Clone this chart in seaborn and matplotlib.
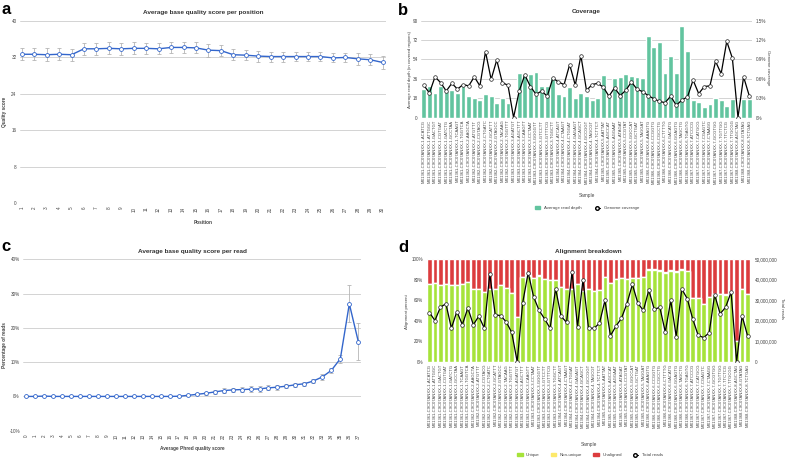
import numpy as np
import pandas as pd
import matplotlib
matplotlib.use("Agg")
import matplotlib.pyplot as plt
import seaborn as sns
from matplotlib.patches import Patch
from matplotlib.lines import Line2D
from matplotlib.ticker import FuncFormatter

# ---- Panel a: quality per position ----
positions = list(range(1, 31))
pos_quality = [32.7, 32.7, 32.6, 32.7, 32.6, 33.9, 33.9, 34.0, 33.9, 34.0,
               34.0, 33.9, 34.2, 34.2, 34.1, 33.6, 33.5, 32.6, 32.5, 32.3,
               32.2, 32.2, 32.2, 32.2, 32.2, 31.9, 32.0, 31.7, 31.5, 30.9]
pos_quality_sd = [1.3, 1.3, 1.4, 1.3, 1.3, 1.3, 1.3, 1.3, 1.3, 1.3,
                  1.2, 1.2, 1.2, 1.3, 1.2, 1.4, 1.2, 1.2, 1.1, 1.2,
                  1.1, 1.1, 1.0, 0.9, 0.9, 1.0, 1.0, 1.3, 1.2, 1.5]

# ---- Panel c: quality per read ----
phred_scores = list(range(0, 38))
read_pct = [0.0, 0.0, 0.1, 0.0, 0.0, 0.0, 0.0, 0.0, 0.0, 0.0,
            0.0, 0.0, 0.0, 0.0, 0.0, 0.0, 0.0, 0.05, 0.3, 0.6,
            0.9, 1.3, 1.7, 1.9, 2.0, 2.1, 2.2, 2.5, 2.7, 3.0,
            3.4, 3.7, 4.5, 5.7, 7.6, 11.0, 27.0, 16.0]
read_pct_sd = [0.05, 0.05, 0.1, 0.05, 0.05, 0.05, 0.05, 0.05, 0.05, 0.05,
               0.05, 0.05, 0.05, 0.05, 0.05, 0.05, 0.05, 0.1, 0.2, 0.3,
               0.4, 0.6, 0.7, 0.7, 0.8, 0.8, 0.8, 0.7, 0.7, 0.6,
               0.6, 0.6, 0.6, 0.8, 0.8, 1.2, 5.4, 5.5]

# ---- Samples (panels b and d) ----
lane_ids = ["MX1361", "MX1362", "MX1363", "MX1364", "MX1365", "MX1366", "MX1367", "MX1368"]
lane_barcodes = [
    ["ACATCG", "ATTGGC", "GACTGT", "CGTGAT", "GATCTG", "GCCTAA", "TCAAGT", "TGGTCA"],
    ["AAGCTA", "ATGTTT", "CGTACG", "CTGATC", "GCATTT", "GTAGCC", "TACAAG", "TGGTTT"],
    ["AGATGT", "AGCTTT", "CAAGTT", "CCTAAT", "GGGGTT", "GTCCTT", "GTTTCG", "TGGCTT"],
    ["ATCAGT", "CTAAGT", "CTGGAT", "GAGAGT", "GCAGCT", "GCCGGT", "TAGCGT", "TCTTCT"],
    ["AATTAT", "AGCCAT", "AGGAAT", "ATAGAT", "CCGTAT", "GGCCAT", "GCTGAT", "TAGGAT"],
    ["AAAGTG", "CCGGTG", "CGCCTG", "CTTTTG", "GACATG", "GGAGTG", "TAGCTG", "TGAGTG"],
    ["ATCCCG", "CATGCG", "CGAGTC", "CTAAGG", "GCGTGG", "TGTTGG", "TTCTCG", "TTGCGG"],
    ["AGCTAG", "GTATAG", "TCTGAG"],
]
samples = [f"{lid}-C9C07ANXX-{i + 1}-{bc}"
           for i, (lid, bcs) in enumerate(zip(lane_ids, lane_barcodes)) for bc in bcs]

read_depth = [26.7, 29.2, 23.0, 28.9, 24.6, 25.2, 22.7, 28.9,
              20.3, 18.1, 16.6, 21.8, 20.3, 13.2, 18.4, 13.5,
              0.0, 41.2, 40.5, 40.0, 42.1, 29.5, 29.5, 37.5,
              22.1, 19.7, 28.3, 18.1, 22.7, 19.7, 16.6, 17.8,
              39.1, 21.6, 36.4, 37.9, 40.7, 38.2, 37.3, 37.0,
              76.1, 65.7, 70.6, 41.6, 57.3, 41.3, 84.8, 61.7,
              16.0, 14.8, 9.9, 12.9, 17.9, 16.0, 10.5, 17.6,
              0.0, 17.6, 17.6]
genome_cov = [0.50, 0.38, 0.63, 0.54, 0.41, 0.53, 0.44, 0.51,
              0.49, 0.63, 0.49, 1.02, 0.59, 0.89, 0.54, 0.50,
              0.00, 0.41, 0.66, 0.48, 0.36, 0.41, 0.33, 0.61,
              0.55, 0.51, 0.82, 0.50, 0.96, 0.42, 0.51, 0.53,
              0.47, 0.33, 0.46, 0.34, 0.42, 0.55, 0.44, 0.40,
              0.34, 0.29, 0.25, 0.23, 0.33, 0.19, 0.27, 0.32,
              0.58, 0.37, 0.48, 0.49, 0.87, 0.68, 1.18, 0.92,
              0.00, 0.63, 0.34]

unique_pct = [76, 76.5, 75, 75.5, 75, 75, 75.5, 78,
              71, 71, 68, 71, 71, 75, 71.5, 67,
              44, 83, 84, 82, 84, 81, 80, 80,
              73, 71, 71, 76, 69, 71, 69, 70,
              83, 77, 81, 82, 81, 82, 82, 83,
              90, 90, 89, 87, 89, 88, 90, 88.5,
              62, 62, 56, 63, 66, 66, 65.5, 69,
              20, 71, 66]
nonunique_pct = [0.2, 0.2, 0.2, 0.2, 0.2, 0.2, 0.2, 0.2,
                 0.2, 0.2, 0.2, 0.2, 0.2, 0.2, 0.2, 0.2,
                 0.1, 0.2, 0.2, 0.2, 0.2, 0.2, 0.2, 0.2,
                 0.2, 0.2, 0.2, 0.2, 0.2, 0.2, 0.2, 0.2,
                 0.2, 0.2, 0.2, 0.2, 0.2, 0.2, 0.2, 0.2,
                 0.2, 0.2, 0.2, 0.2, 0.2, 0.2, 0.2, 0.2,
                 0.2, 0.2, 0.2, 0.2, 0.2, 0.2, 0.2, 0.2,
                 0.1, 0.2, 0.2]
total_reads_m = [24.0, 20.1, 26.6, 28.3, 16.4, 24.5, 18.1, 26.2,
                 18.1, 22.2, 16.4, 42.8, 22.9, 22.5, 19.4, 14.3,
                 0.0, 28.8, 43.4, 31.6, 25.0, 20.9, 16.3, 35.7,
                 22.2, 19.2, 43.9, 17.1, 40.1, 16.4, 16.3, 18.8,
                 29.9, 12.7, 17.3, 21.2, 28.3, 37.7, 28.6, 25.0,
                 34.9, 25.5, 26.6, 14.5, 29.9, 12.2, 35.5, 30.8,
                 20.9, 12.8, 11.8, 14.1, 32.7, 23.4, 26.6, 34.0,
                 0.0, 22.4, 12.7]

# ---- styling ----
sns.set_theme(style="white")
plt.rcParams['font.family'] = ['Liberation Sans', 'DejaVu Sans']

BLUE = "#3366cc"
TEAL = "#62c49f"
GREEN = "#a6e33a"
YELLOW = "#fde96a"
RED = "#dc3c3e"
GRID = "#cccccc"
TXT = "#444444"
TICK_FS = 3.3
LAB_FS = 3.4
TITLE_FS = 4.6

W, H = 787, 459
fig = plt.figure(figsize=(W / 100, H / 100), dpi=100)


def box(left, top, right, bottom):
    return [left / W, 1 - bottom / H, (right - left) / W, (bottom - top) / H]


def style_axes(ax):
    for s in ax.spines.values():
        s.set_visible(False)
    ax.grid(axis='y', color=GRID, linewidth=0.6)
    ax.grid(axis='x', visible=False)
    ax.tick_params(axis='both', length=0, labelsize=TICK_FS, labelcolor=TXT, pad=2.5)
    ax.set_axisbelow(True)


# ---------------- Panel a ----------------
ax_a = fig.add_axes(box(20, 21, 385.7, 203.3))
ax_a.errorbar(positions, pos_quality, yerr=pos_quality_sd, fmt='none', ecolor='#b5b5b5',
              elinewidth=0.6, capsize=1.4, capthick=0.6, zorder=2)
sns.lineplot(x=positions, y=pos_quality, ax=ax_a, color=BLUE, linewidth=1.0, marker='o',
             markersize=2.8, markerfacecolor='white', markeredgecolor=BLUE,
             markeredgewidth=0.6, zorder=3)
ax_a.set_xlim(0.86, 30.24)
ax_a.set_ylim(0, 40)
ax_a.set_yticks([0, 8, 16, 24, 32, 40])
ax_a.set_xticks(positions)
ax_a.set_xticklabels([str(p) for p in positions], rotation=90)
style_axes(ax_a)
ax_a.set_title("Average base quality score per position", fontsize=TITLE_FS,
               fontweight='bold', color='#333333', pad=5)
ax_a.set_xlabel("Position", fontsize=LAB_FS, fontweight='bold', color=TXT)
ax_a.xaxis.set_label_coords(0.5, -0.092)
ax_a.set_ylabel("Quality score", fontsize=LAB_FS, fontweight='bold', color=TXT)
ax_a.yaxis.set_label_coords(-0.036, 0.5)

# ---------------- Panel c ----------------
ax_c = fig.add_axes(box(23.3, 259.3, 361, 430.7))
ax_c.errorbar(phred_scores, read_pct, yerr=read_pct_sd, fmt='none', ecolor='#b5b5b5',
              elinewidth=0.6, capsize=1.2, capthick=0.6, zorder=2)
sns.lineplot(x=phred_scores, y=read_pct, ax=ax_c, color=BLUE, linewidth=1.0, marker='o',
             markersize=2.8, markerfacecolor='white', markeredgecolor=BLUE,
             markeredgewidth=0.6, zorder=3)
ax_c.set_xlim(-0.3, 37.3)
ax_c.set_ylim(-10, 40)
ax_c.set_yticks([-10, 0, 10, 20, 30, 40])
ax_c.yaxis.set_major_formatter(FuncFormatter(lambda v, p: f"{v:.0f}%"))
ax_c.set_xticks(phred_scores)
ax_c.set_xticklabels([str(p) for p in phred_scores], rotation=90)
style_axes(ax_c)
ax_c.set_title("Average base quality score per read", fontsize=TITLE_FS,
               fontweight='bold', color='#333333', pad=4.5)
ax_c.set_xlabel("Average Phred quality score", fontsize=LAB_FS, fontweight='bold', color=TXT)
ax_c.xaxis.set_label_coords(0.5, -0.089)
ax_c.set_ylabel("Percentage of reads", fontsize=LAB_FS, fontweight='bold', color=TXT)
ax_c.yaxis.set_label_coords(-0.048, 0.5)

# ---------------- Panel b ----------------
n = len(samples)
idx = np.arange(n)
ax_b = fig.add_axes(box(421, 20.7, 752, 117.5))
sns.barplot(x=samples, y=read_depth, ax=ax_b, color=TEAL, saturation=1, width=0.86,
            order=samples)
ax_b.set_ylim(0, 90)
ax_b.set_yticks([0, 18, 36, 54, 72, 90])
style_axes(ax_b)
ax_b.tick_params(axis='x', labelrotation=90, labelsize=3.0, pad=1.5)
ax_b2 = ax_b.twinx()
sns.lineplot(x=idx, y=genome_cov, ax=ax_b2, color='black', linewidth=0.9, marker='o',
             markersize=2.6, markerfacecolor='white', markeredgecolor='#222222',
             markeredgewidth=0.5)
ax_b2.set_ylim(0, 1.5)
ax_b2.set_yticks([0, 0.3, 0.6, 0.9, 1.2, 1.5])
ax_b2.yaxis.set_major_formatter(FuncFormatter(lambda v, p: f"{v:.1f}%" if v > 0 else "0%"))
for s in ax_b2.spines.values():
    s.set_visible(False)
ax_b2.tick_params(axis='y', length=0, labelsize=TICK_FS, labelcolor=TXT, pad=3)
ax_b2.grid(False)
ax_b.set_xlim(-0.5, n - 0.5)
ax_b.set_title("Coverage", fontsize=TITLE_FS, fontweight='bold', color='#333333', pad=5.5)
ax_b.set_xlabel("Sample", fontsize=LAB_FS, color=TXT)
ax_b.xaxis.set_label_coords(0.5, -0.778)
ax_b.set_ylabel("Average read depth (in covered regions)", fontsize=3.2, color=TXT)
ax_b.yaxis.set_label_coords(-0.026, 0.5)
ax_b2.set_ylabel("Genome coverage", fontsize=3.2, color=TXT, rotation=270)
ax_b2.yaxis.set_label_coords(1.054, 0.515)
fig.legend(handles=[Patch(color=TEAL, label="Average read depth"),
                    Line2D([], [], color='black', linewidth=0.8, marker='o', markersize=2.6,
                           markerfacecolor='white', label="Genome coverage")],
           loc='center', bbox_to_anchor=(587 / W, 1 - 208 / H), ncol=2, frameon=False,
           fontsize=3.2, handlelength=1.2, handleheight=0.8, columnspacing=3, labelcolor=TXT)

# ---------------- Panel d ----------------
df_d = pd.DataFrame({"Sample": samples, "Unique": unique_pct, "Non-unique": nonunique_pct})
df_d["Unaligned"] = 100 - df_d["Unique"] - df_d["Non-unique"]
df_d["upto_nonunique"] = df_d["Unique"] + df_d["Non-unique"]
df_d["upto_unaligned"] = df_d["upto_nonunique"] + df_d["Unaligned"]

ax_d = fig.add_axes(box(426.7, 259.3, 750.3, 361.7))
sns.barplot(data=df_d, x="Sample", y="upto_unaligned", ax=ax_d, color=RED, saturation=1,
            width=0.86, order=samples)
sns.barplot(data=df_d, x="Sample", y="upto_nonunique", ax=ax_d, color=YELLOW, saturation=1,
            width=0.86, order=samples)
sns.barplot(data=df_d, x="Sample", y="Unique", ax=ax_d, color=GREEN, saturation=1,
            width=0.86, order=samples)
ax_d.set_ylim(0, 100)
ax_d.set_yticks([0, 20, 40, 60, 80, 100])
ax_d.yaxis.set_major_formatter(FuncFormatter(lambda v, p: f"{v:.0f}%"))
style_axes(ax_d)
ax_d.tick_params(axis='x', labelrotation=90, labelsize=3.0, pad=1.5)
ax_d2 = ax_d.twinx()
sns.lineplot(x=idx, y=np.array(total_reads_m) * 1e6, ax=ax_d2, color='black', linewidth=0.9,
             marker='o', markersize=2.6, markerfacecolor='white', markeredgecolor='#222222',
             markeredgewidth=0.5)
ax_d2.set_ylim(0, 50e6)
ax_d2.set_yticks([0, 10e6, 20e6, 30e6, 40e6, 50e6])
ax_d2.yaxis.set_major_formatter(FuncFormatter(lambda v, p: f"{v:,.0f}"))
for s in ax_d2.spines.values():
    s.set_visible(False)
ax_d2.tick_params(axis='y', length=0, labelsize=TICK_FS, labelcolor=TXT, pad=3)
ax_d2.grid(False)
ax_d.set_xlim(-0.5, n - 0.5)
ax_d.set_title("Alignment breakdown", fontsize=TITLE_FS, fontweight='bold', color='#333333',
               pad=4.5)
ax_d.set_xlabel("Sample", fontsize=LAB_FS, color=TXT)
ax_d.xaxis.set_label_coords(0.5, -0.784)
ax_d.set_ylabel("Alignment percent", fontsize=3.2, color=TXT)
ax_d.yaxis.set_label_coords(-0.055, 0.49)
ax_d2.set_ylabel("Total reads", fontsize=3.2, color=TXT, rotation=270)
ax_d2.yaxis.set_label_coords(1.104, 0.52)
fig.legend(handles=[Patch(color=GREEN, label="Unique"),
                    Patch(color=YELLOW, label="Non-unique"),
                    Patch(color=RED, label="Unaligned"),
                    Line2D([], [], color='black', linewidth=0.8, marker='o', markersize=2.6,
                           markerfacecolor='white', label="Total reads")],
           loc='center', bbox_to_anchor=(590 / W, 1 - 455 / H), ncol=4, frameon=False,
           fontsize=3.2, handlelength=1.2, handleheight=0.8, columnspacing=2.5, labelcolor=TXT)

# panel letters
for letter, x, y in [("a", 1, 14), ("b", 398, 15), ("c", 1, 251), ("d", 398, 252)]:
    fig.text(x / W, 1 - y / H, letter, fontsize=12, fontweight='bold', color='black',
             va='baseline', ha='left')

fig.savefig("out.png", dpi=100)
